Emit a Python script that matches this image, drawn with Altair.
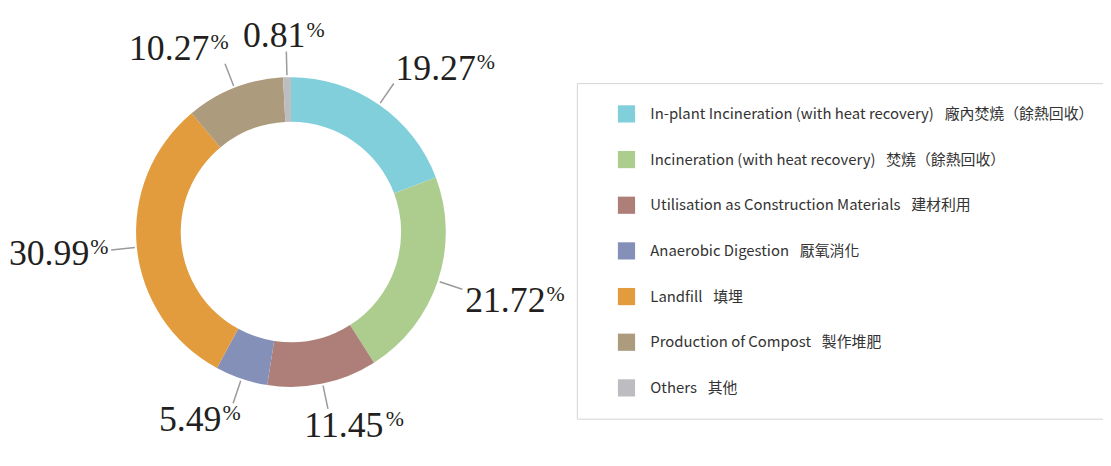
import altair as alt
import pandas as pd

categories = [
    "In-plant Incineration (with heat recovery) \u2002廠內焚燒（餘熱回收）",
    "Incineration (with heat recovery) \u2002焚燒（餘熱回收）",
    "Utilisation as Construction Materials \u2002建材利用",
    "Anaerobic Digestion \u2002厭氧消化",
    "Landfill \u2002填埋",
    "Production of Compost \u2002製作堆肥",
    "Others \u2002其他",
]
values = [19.27, 21.72, 11.45, 5.49, 30.99, 10.27, 0.81]
colors = ["#82CFDC", "#ADCD8F", "#AE7E78", "#8590B9", "#E29C3E", "#AC9B7D", "#BDBDC1"]

df = pd.DataFrame({"category": categories, "value": values, "idx": list(range(len(values)))})

CX, CY = 285, 224
R_OUT, R_IN = 156, 111
R1, R2 = 158, 182

color = alt.Color(
    "category:N",
    scale=alt.Scale(domain=categories, range=colors),
    sort=categories,
    legend=alt.Legend(
        title=None, orient="none", legendX=573, legendY=74,
        strokeColor="#d4d4d4", fillColor="white", padding=22, symbolOffset=19,
        symbolType="square", symbolSize=300, symbolStrokeWidth=0,
        labelFont="Noto Sans CJK TC", labelFontSize=15,
        labelColor="#333333", labelLimit=700, labelOffset=15, rowPadding=28.0,
    ),
)

base = alt.Chart(df)

arcs = base.mark_arc(outerRadius=R_OUT, innerRadius=R_IN).encode(
    theta=alt.Theta("value:Q", stack=True),
    color=color,
    order=alt.Order("idx:Q"),
    x=alt.value(CX),
    y=alt.value(CY),
)

lab = base.transform_joinaggregate(
    total="sum(value)"
).transform_window(
    cum="sum(value)", sort=[alt.SortField("idx")], frame=[None, 0]
).transform_calculate(
    a="(datum.cum - datum.value/2)/datum.total*2*PI",
    lbl="format(datum.value, '.2f')",
).transform_calculate(
    s="sin(datum.a)", c="cos(datum.a)",
    numW="(length(datum.lbl)-1)*18 + 9",
).transform_calculate(
    lx1=f"{CX} + {R1}*datum.s", ly1=f"{CY} - {R1}*datum.c",
    lx2=f"{CX} + {R2}*datum.s", ly2=f"{CY} - {R2}*datum.c",
    w="datum.numW + 19",
).transform_calculate(
    tcx="datum.lx2 + datum.w/2*clamp(datum.s*2.5,-1,1) + 3*datum.s",
    tcy="datum.ly2 - 13*clamp(datum.c*2.5,-1,1) - 3*datum.c",
).transform_calculate(
    nx="datum.tcx - datum.w/2", ny="datum.tcy + 12",
).transform_calculate(
    px="datum.nx + datum.numW + 1", py="datum.ny - 11",
)

rules = lab.mark_rule(color="#9a9a9a", strokeWidth=1.5).encode(
    x=alt.X("lx1:Q", scale=None), y=alt.Y("ly1:Q", scale=None),
    x2="lx2:Q", y2="ly2:Q",
)

nums = lab.mark_text(
    font="Liberation Serif", fontSize=36, color="#231f20", align="left", baseline="alphabetic"
).encode(
    x=alt.X("nx:Q", scale=None), y=alt.Y("ny:Q", scale=None), text="lbl:N",
)

pcts = lab.mark_text(
    font="Liberation Serif", fontSize=22, color="#231f20", align="left", baseline="alphabetic"
).encode(
    x=alt.X("px:Q", scale=None), y=alt.Y("py:Q", scale=None), text=alt.value("%"),
)

chart = alt.layer(arcs, rules, nums, pcts).properties(
    width=1103, height=458, padding=0,
    autosize=alt.AutoSizeParams(type="none"),
).configure_view(stroke=None)

chart.save("out.html", embed_options={"renderer": "svg", "actions": False})
